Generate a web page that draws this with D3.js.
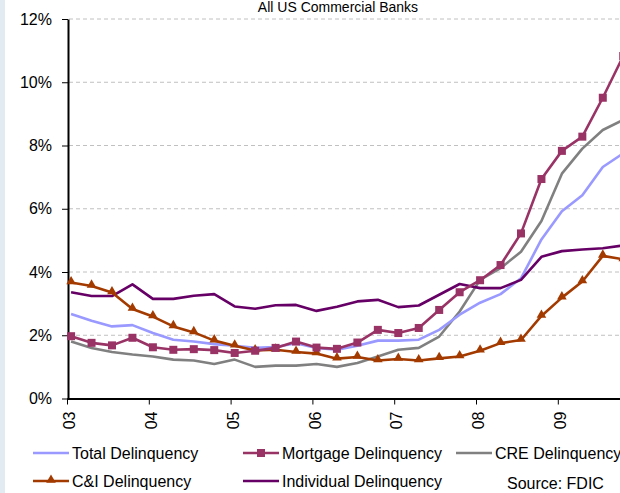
<!DOCTYPE html>
<html>
<head>
<meta charset="utf-8">
<script src="https://cdn.jsdelivr.net/npm/d3@7"></script>
<style>
  body { margin: 0; background: #fff; }
  svg { display: block; font-family: "Liberation Sans", Arial, sans-serif; }
</style>
</head>
<body>
<svg id="chart" width="620" height="493"></svg>
<script>
// Quartale 2003Q1 .. 2009Q4
const quarters = [
  "03Q1", "03Q2", "03Q3", "03Q4", "04Q1", "04Q2", "04Q3", "04Q4",
  "05Q1", "05Q2", "05Q3", "05Q4", "06Q1", "06Q2", "06Q3", "06Q4",
  "07Q1", "07Q2", "07Q3", "07Q4", "08Q1", "08Q2", "08Q3", "08Q4",
  "09Q1", "09Q2", "09Q3", "09Q4"
];
const yearLabels = ["03", "04", "05", "06", "07", "08", "09"];
const yTicks = [0, 2, 4, 6, 8, 10, 12];

const totalDelinquency = [2.67, 2.46, 2.28, 2.32, 2.07, 1.86, 1.80, 1.72, 1.67, 1.60, 1.63, 1.75, 1.60, 1.54,
  1.67, 1.83, 1.83, 1.86, 2.17, 2.65, 3.03, 3.30, 3.80, 5.03, 5.92, 6.43, 7.32, 7.75];
const mortgageDelinquency = [1.97, 1.76, 1.68, 1.92, 1.62, 1.54, 1.56, 1.53, 1.44, 1.51, 1.60, 1.80, 1.61, 1.57,
  1.77, 2.17, 2.07, 2.23, 2.80, 3.36, 3.74, 4.22, 5.22, 6.94, 7.83, 8.28, 9.51, 10.83];
const creDelinquency = [1.80, 1.60, 1.47, 1.39, 1.33, 1.23, 1.20, 1.09, 1.23, 1.00, 1.04, 1.04, 1.09, 1.00,
  1.12, 1.33, 1.54, 1.60, 1.96, 2.75, 3.75, 4.12, 4.64, 5.61, 7.11, 7.90, 8.49, 8.81];
const ciDelinquency = [3.67, 3.56, 3.35, 2.83, 2.59, 2.28, 2.09, 1.83, 1.67, 1.52, 1.54, 1.47, 1.42, 1.26,
  1.31, 1.20, 1.25, 1.20, 1.27, 1.33, 1.51, 1.75, 1.85, 2.61, 3.19, 3.70, 4.51, 4.40];
const individualDelinquency = [3.36, 3.24, 3.24, 3.61, 3.15, 3.15, 3.25, 3.30, 2.91, 2.84, 2.95, 2.96, 2.77, 2.90,
  3.07, 3.12, 2.89, 2.94, 3.28, 3.62, 3.49, 3.49, 3.75, 4.48, 4.66, 4.71, 4.75, 4.84];

// Reihenfolge beim Zeichnen (unten -> oben)
const series = [
  { name: "CRE Delinquency", values: creDelinquency, color: "#808080", marker: null },
  { name: "Total Delinquency", values: totalDelinquency, color: "#9999ff", marker: null },
  { name: "Individual Delinquency", values: individualDelinquency, color: "#660066", marker: null },
  { name: "C&I Delinquency", values: ciDelinquency, color: "#a33a00", marker: "triangle" },
  { name: "Mortgage Delinquency", values: mortgageDelinquency, color: "#993366", marker: "square" }
];

const svg = d3.select("#chart");

// linker hellblauer Rand
svg.append("rect").attr("x", 0).attr("y", 0).attr("width", 5).attr("height", 493).attr("fill", "#e2ebf2");

const x = d3.scaleLinear().domain([0, 28]).range([67, 67 + 28 * 20.45]);
const y = d3.scaleLinear().domain([0, 12]).range([398.5, 19]);
const xPos = (i) => x(i + 0.2);

// Titel
svg.append("text")
  .attr("x", 338).attr("y", 12)
  .attr("text-anchor", "middle")
  .attr("font-size", 14)
  .attr("fill", "#000")
  .text("All US Commercial Banks");

// Gitterlinien
svg.append("g")
  .selectAll("line")
  .data(yTicks.filter((d) => d > 0))
  .join("line")
  .attr("x1", 69).attr("x2", 620)
  .attr("y1", (d) => y(d)).attr("y2", (d) => y(d))
  .attr("stroke", "#c0c0c0")
  .attr("stroke-width", 1)
  .attr("stroke-dasharray", "4,3");

// Y-Achse
const yAxis = svg.append("g")
  .attr("transform", "translate(68,0)")
  .call(d3.axisLeft(y).tickValues(yTicks).tickFormat((d) => d + "%").tickSize(6).tickSizeOuter(0));
yAxis.select(".domain").attr("stroke", "#000").attr("stroke-width", 2);
yAxis.selectAll(".tick line").attr("stroke", "#000");
yAxis.selectAll(".tick text")
  .attr("font-size", 16)
  .attr("font-family", "Liberation Sans, Arial, sans-serif")
  .attr("fill", "#000")
  .attr("x", -16);

// X-Achse
const xAxis = svg.append("g")
  .attr("transform", "translate(0,398.5)")
  .call(d3.axisBottom(x)
    .tickValues(d3.range(0, 28, 4))
    .tickFormat((d) => yearLabels[d / 4])
    .tickSize(6).tickSizeOuter(0));
xAxis.select(".domain").attr("stroke", "#000").attr("stroke-width", 2);
xAxis.selectAll(".tick line").attr("stroke", "#000");
xAxis.selectAll(".tick text")
  .attr("font-size", 16)
  .attr("font-family", "Liberation Sans, Arial, sans-serif")
  .attr("fill", "#000")
  .attr("transform", "rotate(-90)")
  .attr("x", -13)
  .attr("y", 2)
  .attr("dy", "0.35em")
  .attr("text-anchor", "end");

// Linien
const line = d3.line()
  .x((d, i) => xPos(i))
  .y((d) => y(d));

const tri = d3.symbol().type(d3.symbolTriangle).size(40);

series.forEach((s) => {
  svg.append("path")
    .datum(s.values)
    .attr("fill", "none")
    .attr("stroke", s.color)
    .attr("stroke-width", 2.6)
    .attr("stroke-linejoin", "round")
    .attr("d", line);

  if (s.marker === "square") {
    svg.append("g")
      .selectAll("rect")
      .data(s.values)
      .join("rect")
      .attr("x", (d, i) => xPos(i) - 4)
      .attr("y", (d) => y(d) - 4)
      .attr("width", 8).attr("height", 8)
      .attr("fill", s.color);
  } else if (s.marker === "triangle") {
    svg.append("g")
      .selectAll("path")
      .data(s.values)
      .join("path")
      .attr("transform", (d, i) => `translate(${xPos(i)},${y(d) - 1})`)
      .attr("d", tri)
      .attr("fill", s.color);
  }
});

// Legende
const legendItems = [
  { s: series[1], x: 33, y: 453 },
  { s: series[4], x: 243, y: 453 },
  { s: series[0], x: 456, y: 453 },
  { s: series[3], x: 33, y: 481 },
  { s: series[2], x: 243, y: 481 }
];

const legend = svg.append("g");
legendItems.forEach((it) => {
  const g = legend.append("g").attr("transform", `translate(${it.x},${it.y})`);
  g.append("line")
    .attr("x1", 0).attr("x2", 36)
    .attr("y1", 0).attr("y2", 0)
    .attr("stroke", it.s.color)
    .attr("stroke-width", 2.6);
  if (it.s.marker === "square") {
    g.append("rect").attr("x", 14).attr("y", -4).attr("width", 8).attr("height", 8).attr("fill", it.s.color);
  } else if (it.s.marker === "triangle") {
    g.append("path").attr("transform", "translate(18,-1)").attr("d", tri).attr("fill", it.s.color);
  }
  g.append("text")
    .attr("x", 39).attr("y", 0)
    .attr("dy", "0.35em")
    .attr("font-size", 16)
    .attr("fill", "#000")
    .text(it.s.name);
});

// Quelle
svg.append("text")
  .attr("x", 507).attr("y", 489)
  .attr("font-size", 16)
  .attr("fill", "#000")
  .text("Source: FDIC");
</script>
</body>
</html>
